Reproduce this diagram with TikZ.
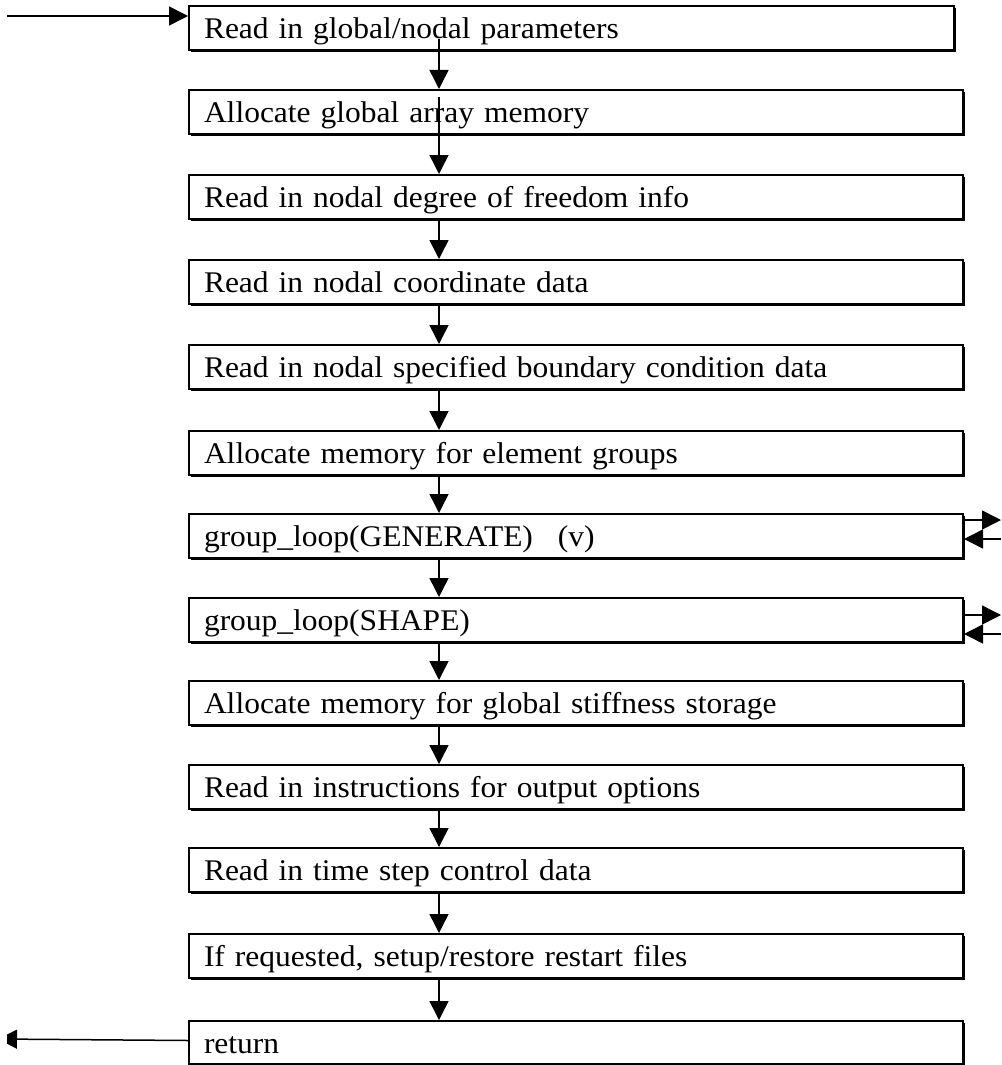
\documentclass[tikz,border=0pt]{standalone}
\usepackage{fontspec}
\setmainfont{Liberation Serif}[FakeStretch=1.05]
\usetikzlibrary{arrows.meta,shadows,calc}
\begin{document}
\begin{tikzpicture}[x=1pt,y=-1pt,
  stepbox/.style={draw, line width=2pt, fill=white, anchor=north west,
    minimum height=44pt, inner xsep=15pt, inner ysep=0pt,
    text width=744pt, text height=22pt, text depth=1pt, align=left,
    font=\fontsize{30}{36}\selectfont,
    drop shadow={shadow xshift=1.8pt, shadow yshift=-1.8pt, fill=black, opacity=1}},
  conn/.style={line width=1.5pt, -{Triangle[length=19pt,width=19pt]}}]
\useasboundingbox (0,0) rectangle (1001,1065);
\node[stepbox, text width=735pt] (b1) at (188,5) {Read in global/nodal parameters};
\node[stepbox] (b2) at (188,89) {Allocate global array memory};
\node[stepbox] (b3) at (188,174) {Read in nodal degree of freedom info};
\node[stepbox] (b4) at (188,259) {Read in nodal coordinate data};
\node[stepbox] (b5) at (188,344) {Read in nodal specified boundary condition data};
\node[stepbox] (b6) at (188,430) {Allocate memory for element groups};
\node[stepbox] (b7) at (188,513) {group\_loop(GENERATE)\hspace{25pt}(v)};
\node[stepbox] (b8) at (188,597) {group\_loop(SHAPE)};
\node[stepbox] (b9) at (188,680) {Allocate memory for global stiffness storage};
\node[stepbox] (b10) at (188,764) {Read in instructions for output options};
\node[stepbox] (b11) at (188,847) {Read in time step control data};
\node[stepbox] (b12) at (188,933) {If requested, setup/restore restart files};
\node[stepbox, minimum height=43pt] (b13) at (188,1020) {return};

% vertical connectors
\draw[conn] ($(b1.south west)+(251,-12)$) -- ($(b2.north west)+(251,0)$);
\draw[conn] ($(b2.north west)+(251,8)$) -- ($(b3.north west)+(251,0)$);
\foreach \a/\b in {b3/b4,b4/b5,b5/b6,b6/b7,b7/b8,b8/b9,b9/b10,b10/b11,b11/b12,b12/b13}{
  \draw[conn] ($(\a.south west)+(251,0)$) -- ($(\b.north west)+(251,0)$);
}

% entry
\coordinate (entry) at (7,16);
\draw[conn] (entry) -- ($(b1.north west)+(0,11)$);

% right side loops
\coordinate (r7o) at (1001,520);
\coordinate (r7i) at (1001,539);
\coordinate (r8o) at (1001,615);
\coordinate (r8i) at (1001,634);
\draw[conn] ($(b7.north east)+(0,7)$) -- (r7o);
\draw[conn] (r7i) -- ($(b7.north east)+(0,26)$);
\draw[conn] ($(b8.north east)+(0,18)$) -- (r8o);
\draw[conn] (r8i) -- ($(b8.north east)+(0,37)$);

% exit
\coordinate (exit) at (-2,1039);
\begin{scope}
\clip (7,0) rectangle (1001,1065);
\draw[conn] ($(b13.west)+(0,-2)$) -- (exit);
\end{scope}
\end{tikzpicture}
\end{document}
